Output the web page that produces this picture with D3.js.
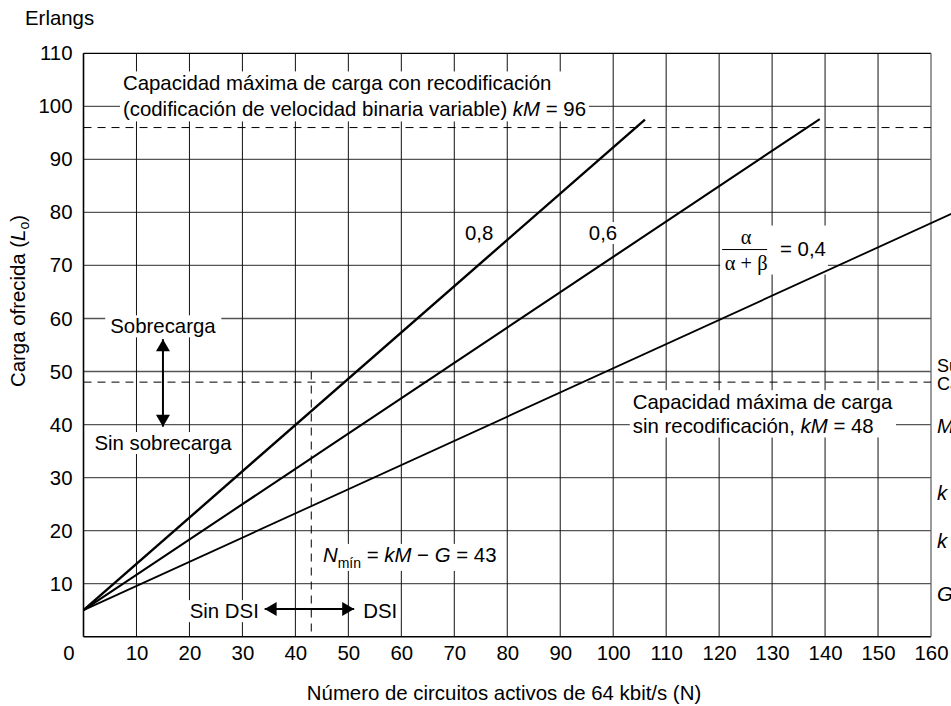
<!DOCTYPE html>
<html>
<head>
<meta charset="utf-8">
<script src="https://cdn.jsdelivr.net/npm/d3@7/dist/d3.min.js"></script>
<style>
  html, body { margin: 0; padding: 0; background: #fff; overflow: hidden; }
  svg { display: block; font-family: Arial, "Liberation Sans", sans-serif; }
</style>
</head>
<body>
<svg id="chart" width="951" height="706"></svg>
<script>
// ---- data ----
const xTicks = [0, 10, 20, 30, 40, 50, 60, 70, 80, 90, 100, 110, 120, 130, 140, 150, 160];
const yTicks = [10, 20, 30, 40, 50, 60, 70, 80, 90, 100, 110];
const activityLabels = ['0,8', '0,6', '0,4'];
const lineStartN = [0, 0, 0];
const lineStartL = [5, 5, 5];
const lineEndN = [106, 139, 164];
const lineEndL = [97.5, 97.6, 79.8];
const capacityLevels = [96, 48];   // kM with / without recodificación
const nMin = 43;

// ---- layout ----
const FS = 20.4;
const x = d3.scaleLinear().domain([0, 160]).range([83.5, 931]);
const y = d3.scaleLinear().domain([0, 110]).range([636.7, 53.3]);
const lineW = [2.4, 2.1, 1.8];

const svg = d3.select('#chart');
const grid = svg.append('g');

// grid
grid.selectAll('line.h').data(yTicks.slice(0, -1)).join('line')
  .attr('x1', x(0)).attr('x2', x(160)).attr('y1', d => y(d)).attr('y2', d => y(d))
  .attr('stroke', '#555').attr('stroke-width', 1.3);
grid.selectAll('line.v').data(xTicks.slice(1, -1)).join('line')
  .attr('y1', y(0)).attr('y2', y(110)).attr('x1', d => x(d)).attr('x2', d => x(d))
  .attr('stroke', '#111').attr('stroke-width', 1);
// frame
grid.append('line').attr('x1', x(0)).attr('x2', x(160)).attr('y1', y(110)).attr('y2', y(110)).attr('stroke', '#000').attr('stroke-width', 1.3);
grid.append('line').attr('x1', x(0)).attr('x2', x(160)).attr('y1', y(0)).attr('y2', y(0)).attr('stroke', '#000').attr('stroke-width', 1.5);
grid.append('line').attr('x1', x(0)).attr('x2', x(0)).attr('y1', y(0)).attr('y2', y(110)).attr('stroke', '#000').attr('stroke-width', 1.6);
grid.append('line').attr('x1', x(160)).attr('x2', x(160)).attr('y1', y(0)).attr('y2', y(110)).attr('stroke', '#666').attr('stroke-width', 1.3);

// axes
const yAxis = svg.append('g').attr('transform', `translate(${x(0)},0)`)
  .call(d3.axisLeft(y).tickValues(yTicks).tickSize(0).tickPadding(11));
const xAxis = svg.append('g').attr('transform', `translate(0,${y(0)})`)
  .call(d3.axisBottom(x).tickValues(xTicks).tickSize(0).tickPadding(9));
[yAxis, xAxis].forEach(a => {
  a.select('.domain').remove();
  a.selectAll('text').attr('font-size', FS).attr('font-family', 'Arial, "Liberation Sans", sans-serif').attr('fill', '#000');
});
xAxis.selectAll('.tick text').attr('dx', d => d === 0 ? -15 : 0);

svg.append('text').attr('x', 25).attr('y', 25).attr('font-size', FS).text('Erlangs');
svg.append('text').attr('x', 504).attr('y', 700).attr('text-anchor', 'middle').attr('font-size', FS)
  .text('Número de circuitos activos de 64 kbit/s (N)');
const yt = svg.append('text').attr('transform', 'translate(25,301) rotate(-90)')
  .attr('text-anchor', 'middle').attr('font-size', FS);
yt.append('tspan').text('Carga ofrecida (');
yt.append('tspan').attr('font-style', 'italic').text('L');
yt.append('tspan').attr('font-size', 14).attr('dy', 4).text('o');
yt.append('tspan').attr('dy', -4).text(')');

// ---- labels with white boxes ----
function rich(g, px, py, parts, anchor) {
  const t = g.append('text').attr('x', px).attr('y', py).attr('font-size', FS)
    .attr('text-anchor', anchor || 'start');
  parts.forEach(p => {
    const s = t.append('tspan').text(p.t);
    if (p.i) s.attr('font-style', 'italic');
    if (p.fs) s.attr('font-size', p.fs);
    if (p.dy) s.attr('dy', p.dy);
  });
  return t;
}
function boxed(build, pad) {
  const g = svg.append('g');
  build(g);
  const b = g.node().getBBox();
  g.insert('rect', ':first-child').attr('x', b.x - pad[0]).attr('y', b.y - pad[1])
    .attr('width', b.width + 2 * pad[0]).attr('height', b.height + 2 * pad[1]).attr('fill', '#fff');
  return g;
}

boxed(g => {
  rich(g, x(7.45), y(103), [{ t: 'Capacidad máxima de carga con recodificación' }]);
  rich(g, x(7.45), y(98.1), [{ t: '(codificación de velocidad binaria variable) ' }, { t: 'kM', i: 1 }, { t: ' = ' + capacityLevels[0] }]);
}, [3, 1]);
boxed(g => {
  rich(g, x(103.7), y(42.9), [{ t: 'Capacidad máxima de carga' }]);
  rich(g, x(103.7), y(38.5), [{ t: 'sin recodificación, ' }, { t: 'kM', i: 1 }, { t: ' = ' + capacityLevels[1] }]);
}, [3, 1]);
boxed(g => rich(g, x(15), y(57.2), [{ t: 'Sobrecarga' }], 'middle'), [5, 0]);
boxed(g => rich(g, x(15), y(35.2), [{ t: 'Sin sobrecarga' }], 'middle'), [3, 0]);
boxed(g => rich(g, x(33.1), y(3.5), [{ t: 'Sin DSI' }], 'end'), [3, 0]);
boxed(g => rich(g, x(52.8), y(3.5), [{ t: 'DSI' }]), [3, 0]);
boxed(g => rich(g, x(45.2), y(14.1), [
  { t: 'N', i: 1 }, { t: 'mín', fs: 14, dy: 6 }, { t: ' = ', dy: -6 }, { t: 'kM', i: 1 },
  { t: ' − ' }, { t: 'G', i: 1 }, { t: ' = ' + nMin }]), [3, 0]);
boxed(g => rich(g, x(72), y(74.8), [{ t: activityLabels[0] }]), [3, 0]);
boxed(g => rich(g, x(95.4), y(74.8), [{ t: activityLabels[1] }]), [3, 0]);
boxed(g => {
  const cx = x(125.1);
  g.append('text').attr('x', cx).attr('y', y(73) - 6).attr('text-anchor', 'middle')
    .attr('font-size', FS).attr('font-family', '"Liberation Serif", "Times New Roman", serif').text('α');
  g.append('text').attr('x', cx).attr('y', y(73) + 20).attr('text-anchor', 'middle')
    .attr('font-size', FS).attr('font-family', '"Liberation Serif", "Times New Roman", serif').text('α + β');
  g.append('line').attr('x1', cx - 24).attr('x2', cx + 21).attr('y1', y(73)).attr('y2', y(73))
    .attr('stroke', '#000').attr('stroke-width', 1);
  rich(g, x(131.5), y(71.8), [{ t: '= ' + activityLabels[2] }]);
}, [2, 0]);

// right-hand notes (cut by the page edge, as in the source figure)
const notes = [['Supuestos del', 372], ['Cálculo:', 390]];
notes.forEach(n => svg.append('text').attr('x', 937).attr('y', n[1]).attr('font-size', 18).text(n[0]));
const params = [['M', ' = 24', 433], ['k', ' = 2', 500], ['k', ' = 4', 548], ['G', ' = 5', 601]];
params.forEach(p => {
  const t = svg.append('text').attr('x', 937).attr('y', p[2]).attr('font-size', FS);
  t.append('tspan').attr('font-style', 'italic').text(p[0]);
  t.append('tspan').text(p[1]);
});

// ---- dashed reference lines ----
svg.selectAll('line.cap').data(capacityLevels).join('line')
  .attr('x1', x(0)).attr('x2', x(160)).attr('y1', d => y(d)).attr('y2', d => y(d))
  .attr('stroke', '#000').attr('stroke-width', 1).attr('stroke-dasharray', '8,6');
svg.append('line').attr('x1', x(nMin)).attr('x2', x(nMin)).attr('y1', y(50)).attr('y2', y(0))
  .attr('stroke', '#000').attr('stroke-width', 1).attr('stroke-dasharray', '8,6');

// ---- activity lines ----
const lines = activityLabels.map((a, i) => [[lineStartN[i], lineStartL[i]], [lineEndN[i], lineEndL[i]]]);
const lineGen = d3.line().x(d => x(d[0])).y(d => y(d[1]));
svg.selectAll('path.act').data(lines).join('path')
  .attr('d', lineGen).attr('fill', 'none').attr('stroke', '#000')
  .attr('stroke-width', (d, i) => lineW[i]);

// ---- arrows ----
function arrow(x1, y1, x2, y2) {
  const ang = Math.atan2(y2 - y1, x2 - x1), L = 12, W = 7;
  svg.append('line').attr('x1', x1).attr('y1', y1).attr('x2', x2).attr('y2', y2)
    .attr('stroke', '#000').attr('stroke-width', 2);
  [[x1, y1, ang + Math.PI], [x2, y2, ang]].forEach(([px, py, a]) => {
    const bx = px - L * Math.cos(a), by = py - L * Math.sin(a);
    const nx = -Math.sin(a) * W, ny = Math.cos(a) * W;
    svg.append('path').attr('d', `M${px},${py}L${bx + nx},${by + ny}L${bx - nx},${by - ny}Z`).attr('fill', '#000');
  });
}
arrow(x(15), y(56.1), x(15), y(39.6));
arrow(x(34.2), y(5.2), x(51.1), y(5.2));
</script>
</body>
</html>
